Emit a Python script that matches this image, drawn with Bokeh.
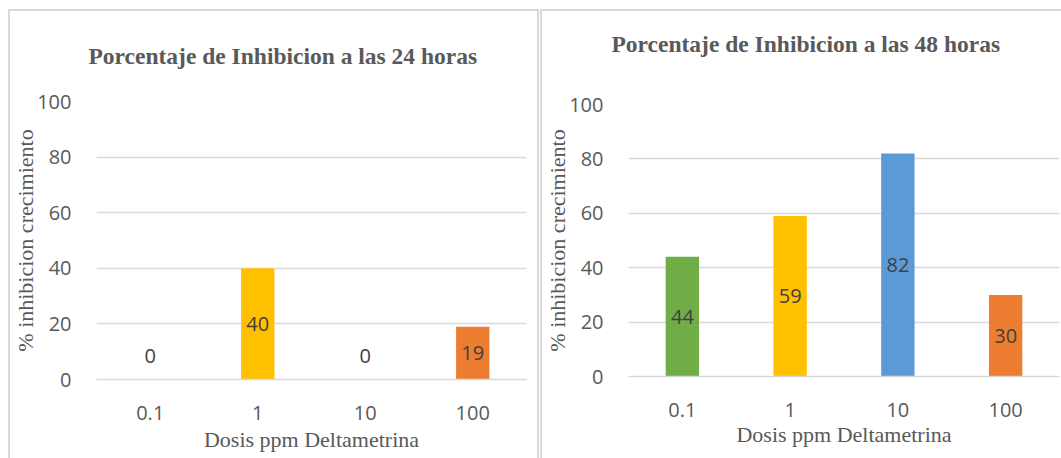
from bokeh.plotting import figure
from bokeh.layouts import row, column
from bokeh.models import ColumnDataSource, Div, FixedTicker, Range1d, Title
from bokeh.core.properties import value
from bokeh.embed import file_html
from bokeh.resources import INLINE

# Dose categories (ppm deltamethrin) and inhibition percentages
doses = ["0.1", "1", "10", "100"]
dose_colors = ["#70AD47", "#FFC000", "#5B9BD5", "#ED7D31"]
inhibition_24h = [0, 40, 0, 19]
inhibition_48h = [44, 59, 82, 30]
y_ticks = [0, 20, 40, 60, 80, 100]

title_24h = "Porcentaje de Inhibicion a las 24 horas"
title_48h = "Porcentaje de Inhibicion a las 48 horas"
x_title = "Dosis ppm Deltametrina"
y_title = "% inhibicion crecimiento"

GRID = "#D9D9D9"
TEXT = "#595959"
LABEL = "#404040"
SANS = "Open Sans"
SERIF = "Liberation Serif"


def bar_chart(values, title, width, height, borders, title_offset, gap,
              xlabel_standoff):
    left, right, top, bottom = borders
    src = ColumnDataSource(dict(
        dose=doses,
        val=values,
        color=dose_colors,
        label=[str(v) for v in values],
        label_y=[v / 2 for v in values],
        label_dy=[-24 if v == 0 else 0 for v in values],
    ))
    p = figure(x_range=doses, y_range=Range1d(0, 100),
               width=width, height=height, title=None,
               min_border_left=left, min_border_right=right,
               min_border_top=top, min_border_bottom=bottom,
               output_backend="svg", toolbar_location=None,
               outline_line_color=None, background_fill_color="white",
               border_fill_color="white")

    p.vbar(x="dose", top="val", width=0.31, fill_color="color",
           line_color=None, source=src)
    p.text(x="dose", y="label_y", text="label", y_offset="label_dy",
           text_align="center", text_baseline="middle",
           text_font=value(SANS), text_font_size="20px",
           text_color=LABEL, source=src)

    heading = Title(text=title, text_font=SERIF, text_font_style="bold",
                    text_font_size="23.5px", text_color=TEXT, align="left",
                    vertical_align="bottom", offset=title_offset, standoff=0)
    try:
        # lift the heading clear of the plot area
        heading.padding = dict(left=0, right=0, top=0, bottom=gap)
    except Exception:
        p.add_layout(Title(text=" ", text_font_size="10px",
                           standoff=gap - 14), "above")
    p.add_layout(heading, "above")

    p.xgrid.grid_line_color = None
    p.ygrid.grid_line_color = GRID
    p.ygrid.grid_line_width = 1.5
    p.yaxis.ticker = FixedTicker(ticks=y_ticks)

    for ax in (p.xaxis, p.yaxis):
        ax.major_tick_line_color = None
        ax.minor_tick_line_color = None
        ax.major_tick_out = 0
        ax.minor_tick_out = 0
        ax.major_tick_in = 0
        ax.minor_tick_in = 0
        ax.major_label_text_font = SANS
        ax.major_label_text_font_size = "20px"
        ax.major_label_text_color = TEXT
        ax.axis_label_text_font = SERIF
        ax.axis_label_text_font_style = "normal"
        ax.axis_label_text_font_size = "22px"
        ax.axis_label_text_color = TEXT

    p.yaxis.axis_line_color = None
    p.yaxis.major_label_standoff = 25
    p.yaxis.axis_label = y_title
    p.yaxis.axis_label_standoff = -4

    p.xaxis.axis_line_color = GRID
    p.xaxis.axis_line_width = 1.5
    p.xaxis.major_label_standoff = 26
    p.xaxis.axis_label = x_title
    p.xaxis.axis_label_standoff = xlabel_standoff
    return p


def bar(w, h, color=None):
    styles = {"background-color": color} if color else {}
    return Div(text="", width=w, height=h, margin=0, styles=styles)


chart_24 = bar_chart(inhibition_24h, title_24h, 527, 447, (84, 11, 90, 79),
                     -8, 33, 4)
chart_48 = bar_chart(inhibition_48h, title_48h, 519, 447, (85, 2, 93, 82),
                     -17, 48, 2)

panel_24 = column(bar(531, 2, GRID),
                  row(bar(2, 447, GRID), chart_24, bar(2, 447, GRID)))
panel_48 = column(bar(521, 2, GRID),
                  row(bar(2, 447, GRID), chart_48))

page = column(bar(1061, 9),
              row(bar(8, 449), panel_24, bar(1, 449), panel_48))

open("out.html", "w").write(file_html(page, INLINE))
